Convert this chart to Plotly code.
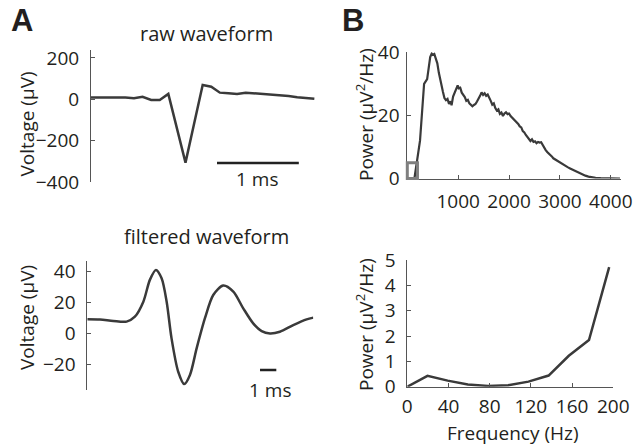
import plotly.graph_objects as go

W, H = 634, 445
FONT = "Open Sans"
TXT = "#231f20"
LINE = "#3a3a3a"
AX = "#555555"

# ---------------- data ----------------
# raw waveform (µV), sampled every ~0.105 ms
raw_t_ms = [0.000, 0.105, 0.210, 0.315, 0.420, 0.525, 0.630, 0.735, 0.840, 0.945,
            1.050, 1.155, 1.260, 1.365, 1.470, 1.575, 1.680, 1.785, 1.890, 1.995,
            2.100, 2.205, 2.310, 2.415, 2.520, 2.625, 2.730]
raw_uv = [8, 8, 9, 9, 8, 5, 12, -3, -3, 26,
          -140, -306, -118, 69, 61, 32, 29, 26, 32, 29,
          26, 24, 21, 16, 10, 5, 2]

# filtered waveform (µV)
filt_t_ms = [0.00, 0.78, 1.60, 2.41, 2.92, 3.44, 3.84, 4.21, 4.56, 4.87,
             5.17, 5.58, 5.95, 6.30, 6.71, 7.22, 7.73, 8.34, 8.96, 9.57,
             10.18, 10.70, 11.21, 11.82, 12.64, 13.46, 13.87]
filt_uv = [9.3, 9.1, 8.2, 7.8, 11.0, 20.7, 34.8, 41.2, 35.8, 20.7,
           -3.0, -24.6, -32.6, -26.7, -9.5, 10.0, 25.0, 31.1, 27.2, 16.4,
           6.7, 1.7, 0.2, 1.3, 5.6, 9.3, 10.4]

# power spectrum, full band (µV²/Hz)
psd_f_hz = [140, 250, 330, 360, 390, 420, 450, 480, 500, 530, 560, 590, 620, 650, 680,
            700, 730, 760, 790, 820, 850, 870, 900, 930, 960, 990, 1010, 1040, 1070,
            1100, 1130, 1160, 1190, 1220, 1250, 1280, 1310, 1340, 1370, 1400, 1430,
            1460, 1490, 1520, 1550, 1580, 1610, 1640, 1670, 1700, 1730, 1760, 1790,
            1820, 1850, 1880, 1910, 1940, 1970, 2000, 2030, 2060, 2090, 2120, 2150,
            2180, 2210, 2240, 2270, 2300, 2330, 2360, 2390, 2420, 2450, 2480, 2510,
            2540, 2570, 2600, 2630, 2660, 2690, 2720, 2750, 2780, 2810, 2840, 2870,
            2900, 2940, 2980, 3020, 3060, 3100, 3150, 3200, 3250, 3300, 3350, 3400,
            3450, 3500, 3560, 3620, 3700, 3800, 3900, 4000, 4100, 4180]
psd_pow = [0, 12, 30, 31, 31.5, 35, 38.5, 39.6, 39.2, 39.5, 38, 36.5, 33.5, 31, 28,
           27.5, 25.5, 24.8, 25.2, 23.6, 24.5, 23.2, 26, 27, 28.5, 29.5, 28.6, 28.8, 27.2,
           26.5, 25.8, 24.6, 24.9, 23.8, 23.4, 22.9, 23.3, 23.6, 24.4, 25.1, 26.2,
           27.3, 26.5, 27.0, 26.2, 26.6, 25.3, 24.6, 23.4, 23.8, 22.3, 21.5, 21.9,
           20.5, 20.9, 19.8, 20.6, 21.0, 20.4, 20.6, 19.8, 19.3, 18.9, 18.5, 17.8,
           17.3, 16.5, 16.2, 15.0, 14.6, 13.8, 13.2, 12.6, 11.9, 12.4, 11.6, 11.8,
           11.2, 11.6, 11.4, 11.5, 10.6, 9.8, 9.0, 8.4, 8.0, 7.4, 7.0, 6.4,
           6.1, 5.5, 5.2, 4.8, 4.4, 4.0, 3.6, 3.2, 2.8, 2.3, 1.9, 1.5,
           1.2, 0.9, 0.6, 0.35, 0.2, 0.1, 0.05, 0.02, 0.0, 0.0]

# power spectrum, 0-200 Hz (µV²/Hz)
low_f_hz = [0, 19.6, 39.2, 58.8, 78.4, 98.0, 117.6, 137.2, 156.8, 176.4, 196.0]
low_pow = [0, 0.43, 0.24, 0.09, 0.03, 0.06, 0.20, 0.44, 1.22, 1.84, 4.72]

# zoom box marking the low band on the full spectrum
box_f_hz = [0, 200]
box_pow = [0, 5]

# scale bars (ms) : (x0, x1, y)
raw_bar = (1.54, 2.54, -308)
filt_bar = (10.6, 11.6, -23.5)


def px(x):
    return x / W


def py(y):
    return 1 - y / H


fig = go.Figure()

line = dict(color=LINE, width=2.5)
fig.add_trace(go.Scatter(x=raw_t_ms, y=raw_uv, mode="lines", line=line, xaxis="x", yaxis="y"))
fig.add_trace(go.Scatter(x=filt_t_ms, y=filt_uv, mode="lines",
                         line=dict(color=LINE, width=2.5, shape="spline", smoothing=0.8),
                         xaxis="x2", yaxis="y2"))
fig.add_trace(go.Scatter(x=psd_f_hz, y=psd_pow, mode="lines", line=dict(color=LINE, width=2.2),
                         xaxis="x3", yaxis="y3"))
fig.add_trace(go.Scatter(x=low_f_hz, y=low_pow, mode="lines", line=line, xaxis="x4", yaxis="y4"))

tickfont = dict(family=FONT, size=19, color=TXT)
common = dict(showgrid=False, zeroline=False, showline=True, linecolor=AX, linewidth=1,
              ticks="inside", ticklen=4, tickcolor=AX, tickfont=tickfont, automargin=False)

fig.update_layout(
    width=W, height=H,
    margin=dict(l=0, r=0, t=0, b=0, pad=0, autoexpand=False),
    paper_bgcolor="white", plot_bgcolor="white",
    showlegend=False,
    hovermode=False,
    xaxis=dict(domain=[px(91), px(316)], range=[0, 2.75], visible=False, anchor="y", automargin=False),
    yaxis=dict(domain=[py(182.1), py(50)], range=[-400, 238], anchor="x",
               tickvals=[200, 0, -200, -400], ticklabelstandoff=7, **common),
    xaxis2=dict(domain=[px(87.3), px(313.3)], range=[0, 13.87], visible=False, anchor="y2", automargin=False),
    yaxis2=dict(domain=[py(390), py(261)], range=[-36.4, 47], anchor="x2",
                tickvals=[40, 20, 0, -20], ticklabelstandoff=7, **common),
    xaxis3=dict(domain=[px(407.3), px(621)], range=[0, 4200], anchor="y3",
                tickvals=[1000, 2000, 3000, 4000], ticklabelstandoff=6, **common),
    yaxis3=dict(domain=[py(178.5), py(52.3)], range=[0, 40], anchor="x3",
                tickvals=[0, 20, 40], ticklabelstandoff=3, **common),
    xaxis4=dict(domain=[px(407.3), px(613.3)], range=[0, 200], anchor="y4",
                tickvals=[0, 40, 80, 120, 160, 200], ticklabelstandoff=2, **common),
    yaxis4=dict(domain=[py(386.7), py(260)], range=[0, 5], anchor="x4",
                tickvals=[0, 1, 2, 3, 4, 5], ticklabelstandoff=7, **common),
)

# scale bars
fig.add_shape(type="line", xref="x", yref="y", x0=raw_bar[0], x1=raw_bar[1], y0=raw_bar[2], y1=raw_bar[2],
              line=dict(color="#222222", width=2.5))
fig.add_shape(type="line", xref="x2", yref="y2", x0=filt_bar[0], x1=filt_bar[1], y0=filt_bar[2], y1=filt_bar[2],
              line=dict(color="#222222", width=2.5))

# grey box (domain refs so it is not clipped at the axes)
fig.add_shape(type="rect", xref="x3 domain", yref="y3 domain",
              x0=box_f_hz[0] / 4200, x1=box_f_hz[1] / 4200, y0=box_pow[0] / 40, y1=box_pow[1] / 40,
              line=dict(color="#7f7f7f", width=3))


def ann(text, x, y, size=19, angle=0, bold=False, family=FONT):
    fig.add_annotation(text=f"<b>{text}</b>" if bold else text, x=px(x), y=py(y), xref="paper", yref="paper",
                       showarrow=False, textangle=angle, xanchor="center", yanchor="middle",
                       font=dict(family=family, size=size, color=TXT))


ann("A", 21.5, 20, size=31, bold=True, family="Liberation Sans")
ann("B", 352.5, 20, size=31, bold=True, family="Liberation Sans")
ann("raw waveform", 206, 34, size=20)
ann("filtered waveform", 206, 236, size=20)
ann("1 ms", 257, 179)
ann("1 ms", 270, 390)
ann("Voltage (µV)", 27, 124.5, angle=-90)
ann("Voltage (µV)", 27, 318, angle=-90)
ann("Power (µV<sup>2</sup>/Hz)", 365, 115, angle=-90)
ann("Power (µV<sup>2</sup>/Hz)", 365, 325, angle=-90)
ann("Frequency (Hz)", 512.5, 433)

fig.write_html(
    "out.html",
    config={"displayModeBar": False, "staticPlot": True},
    post_script="document.body.style.margin='0';document.body.style.padding='0';"
                "document.body.style.overflow='hidden';document.documentElement.style.overflow='hidden';",
)
